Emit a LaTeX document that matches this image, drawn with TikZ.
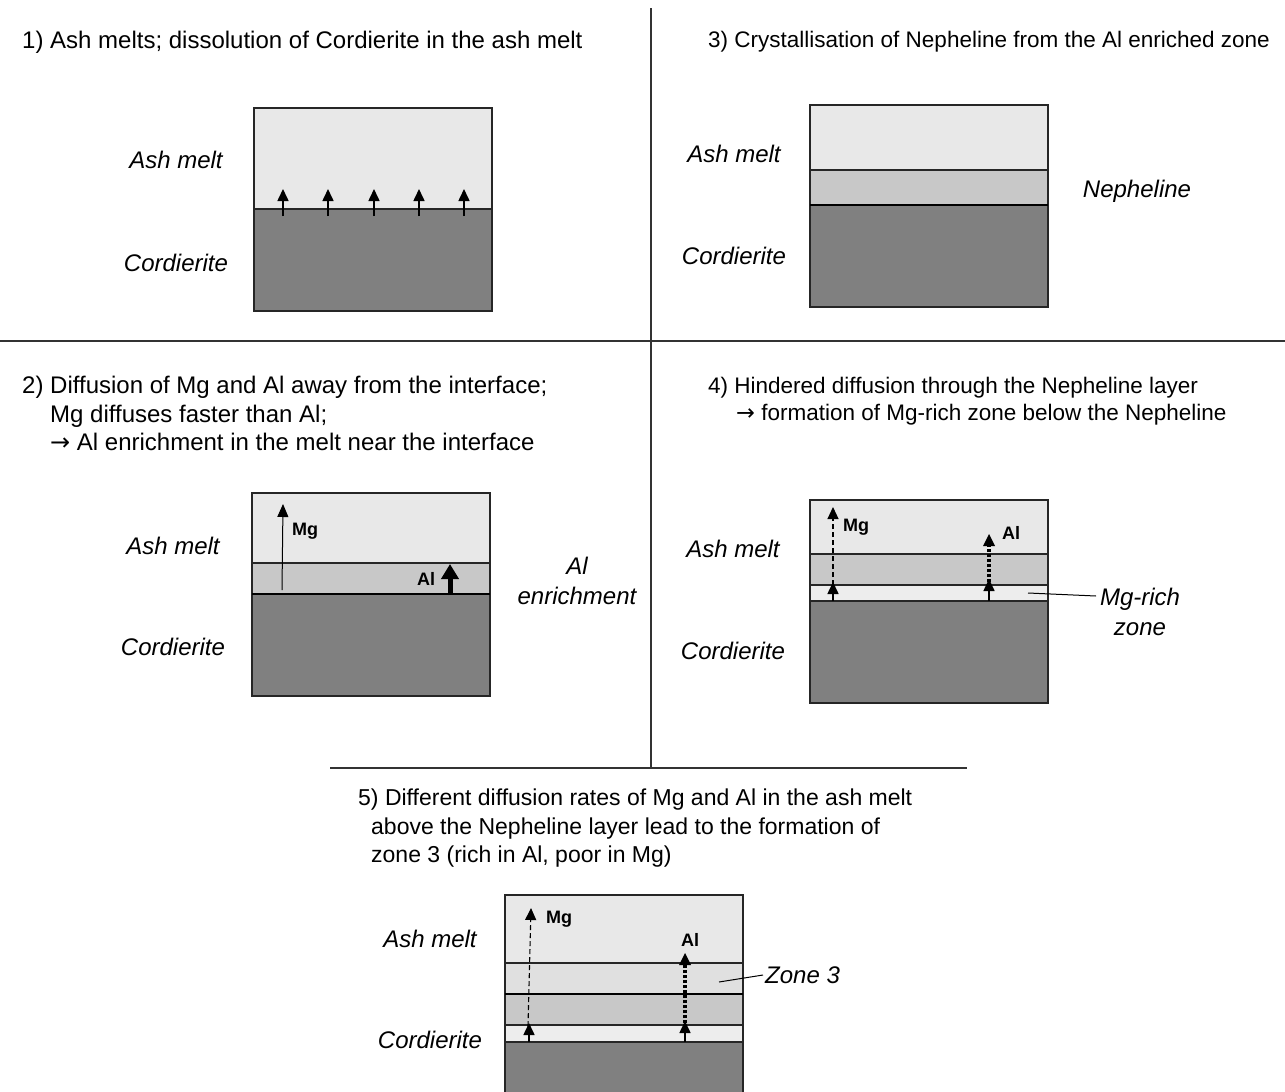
\documentclass[tikz,border=0pt]{standalone}
\usepackage{fontspec}
\setmainfont{Liberation Sans}
\newfontfamily\arrowfont{DejaVu Sans}
\usetikzlibrary{arrows.meta}
\definecolor{melt}{HTML}{E8E8E8}
\definecolor{neph}{HTML}{C8C8C8}
\definecolor{cord}{HTML}{808080}
\definecolor{mgz}{HTML}{EDEDED}
\definecolor{zthree}{HTML}{E0E0E0}
\newcommand{\rarr}{{\arrowfont →}}
\tikzset{
  layer/.style={draw=black!85, line width=1.3pt},
  thickline/.style={draw=black, line width=2.4pt},
  ttl/.style={anchor=west, align=left, inner sep=0pt, font=\fontsize{24}{28.5}\selectfont},
  ttlr/.style={ttl, font=\fontsize{22.5}{26.5}\selectfont},
  ttlc/.style={ttl, font=\fontsize{23}{28.5}\selectfont},
  lbl/.style={font=\fontsize{24}{29.5}\selectfont\itshape, align=center},
  el/.style={font=\fontsize{18}{20}\selectfont\bfseries},
  smallarr/.style={line width=1.6pt, -{Triangle[width=11pt,length=12pt]}},
  thinarr/.style={line width=1pt, -{Triangle[width=11pt,length=13pt]}},
  fatarr/.style={line width=5pt, -{Triangle[width=17pt,length=15pt]}},
  dasharr/.style={line width=1.1pt, dash pattern=on 5pt off 3pt, -{Triangle[width=11pt,length=12pt]}},
  dotarr/.style={line width=3.5pt, dash pattern=on 3pt off 2pt, -{Triangle[width=12pt,length=12pt,line width=0pt]}},
  divider/.style={line width=1.3pt, black!80},
  leader/.style={line width=1pt, black}
}
\begin{document}
\begin{tikzpicture}[x=1pt,y=-1pt]
\useasboundingbox (0,0) rectangle (1285,1092);
\fill[white] (0,0) rectangle (1285,1092);
% dividers
\coordinate (vt) at (651,8); \coordinate (vb) at (651,768);
\coordinate (hl) at (0,341); \coordinate (hr) at (1285,341);
\coordinate (ll) at (330,768); \coordinate (lr) at (967,768);
\draw[divider] (vt) -- (vb);
\draw[divider] (hl) -- (hr);
\draw[divider] (ll) -- (lr);

% ---------- Panel 1 ----------
\node[ttl] (t1) at (22,42) {1) Ash melts; dissolution of Cordierite in the ash melt};
\fill[melt] (254,108) rectangle (492,209);
\fill[cord] (254,209) rectangle (492,311);
\draw[layer] (254,108) rectangle (492,311);
\draw[layer] (254,209) -- (492,209);
\foreach \x/\n in {283/a,328/b,374/c,419/d,464/e}{
  \coordinate (p1\n s) at (\x,216); \coordinate (p1\n e) at (\x,189);
  \draw[smallarr] (p1\n s) -- (p1\n e);
}
\node[lbl] (am1) at (176,160) {Ash melt};
\node[lbl] (co1) at (176,263) {Cordierite};

% ---------- Panel 3 ----------
\node[ttlr] (t3) at (708,42) {3) Crystallisation of Nepheline from the Al enriched zone};
\fill[melt] (810,105) rectangle (1048,170);
\fill[neph] (810,170) rectangle (1048,205);
\fill[cord] (810,205) rectangle (1048,307);
\draw[layer] (810,105) rectangle (1048,307);
\draw[layer] (810,170) -- (1048,170);
\draw[thickline] (810,205) -- (1048,205);
\node[lbl] (am3) at (734,154) {Ash melt};
\node[lbl] (co3) at (734,256) {Cordierite};
\node[lbl] (ne3) at (1137,191) {Nepheline};

% ---------- Panel 2 ----------
\node[ttl, anchor=north west] (t2) at (22,376) {2) Diffusion of Mg and Al away from the interface;\\
\hspace*{28pt}Mg diffuses faster than Al;\\
\hspace*{28pt}\rarr{} Al enrichment in the melt near the interface};
\fill[melt] (252,493) rectangle (490,563);
\fill[neph] (252,563) rectangle (490,594);
\fill[cord] (252,594) rectangle (490,696);
\draw[layer] (252,493) rectangle (490,696);
\draw[layer] (252,563) -- (490,563);
\draw[thickline] (252,594) -- (490,594);
\coordinate (mg2s) at (282,590); \coordinate (mg2e) at (283,504);
\draw[thinarr] (mg2s) -- (mg2e);
\coordinate (al2s) at (450,595); \coordinate (al2e) at (450,564);
\draw[fatarr] (al2s) -- (al2e);
\node[el] (mgl2) at (305,531) {Mg};
\node[el] (all2) at (426,579) {Al};
\node[lbl] (am2) at (173,546) {Ash melt};
\node[lbl] (co2) at (173,647) {Cordierite};
\node[lbl] (ae2) at (577,581) {Al\\enrichment};

% ---------- Panel 4 ----------
\node[ttlr, anchor=north west] (t4) at (708,377) {4) Hindered diffusion through the Nepheline layer\\
\hspace*{28pt}\rarr{} formation of Mg-rich zone below the Nepheline};
\fill[melt] (810,500) rectangle (1048,554);
\fill[neph] (810,554) rectangle (1048,585);
\fill[mgz] (810,585) rectangle (1048,601);
\fill[cord] (810,601) rectangle (1048,703);
\draw[layer] (810,500) rectangle (1048,703);
\draw[layer] (810,554) -- (1048,554);
\draw[layer] (810,585) -- (1048,585);
\draw[layer] (810,601) -- (1048,601);
\coordinate (mg4s) at (833,585); \coordinate (mg4e) at (833,507);
\draw[dasharr] (mg4s) -- (mg4e);
\coordinate (mg4a) at (833,601); \coordinate (mg4b) at (833,582);
\draw[smallarr] (mg4a) -- (mg4b);
\coordinate (al4s) at (989,582); \coordinate (al4e) at (989,534);
\draw[dotarr] (al4s) -- (al4e);
\coordinate (al4a) at (989,601); \coordinate (al4b) at (989,579);
\draw[smallarr] (al4a) -- (al4b);
\node[el] (mgl4) at (856,527) {Mg};
\node[el] (all4) at (1011,533) {Al};
\node[lbl] (am4) at (733,549) {Ash melt};
\node[lbl] (co4) at (733,651) {Cordierite};
\node[lbl] (mr4) at (1140,612) {Mg-rich\\zone};
\coordinate (ld4) at (1028,593);
\draw[leader] (ld4) -- (1096,596);

% ---------- Panel 5 ----------
\node[ttlc, anchor=north west] (t5) at (358,789) {5) Different diffusion rates of Mg and Al in the ash melt\\
\hspace*{13pt}above the Nepheline layer lead to the formation of\\
\hspace*{13pt}zone 3 (rich in Al, poor in Mg)};
\fill[melt] (505,895) rectangle (743,963);
\fill[zthree] (505,963) rectangle (743,994);
\fill[neph] (505,994) rectangle (743,1025);
\fill[mgz] (505,1025) rectangle (743,1042);
\fill[cord] (505,1042) rectangle (743,1096);
\draw[layer] (505,1096) -- (505,895) -- (743,895) -- (743,1096);
\draw[layer] (505,963) -- (743,963);
\draw[thickline] (505,994) -- (743,994);
\draw[layer] (505,1025) -- (743,1025);
\draw[layer] (505,1042) -- (743,1042);
\coordinate (mg5s) at (528,1026); \coordinate (mg5e) at (531,908);
\draw[dasharr] (mg5s) -- (mg5e);
\coordinate (mg5a) at (529,1042); \coordinate (mg5b) at (529,1023);
\draw[smallarr] (mg5a) -- (mg5b);
\coordinate (al5s) at (685,1023); \coordinate (al5e) at (685,953);
\draw[dotarr] (al5s) -- (al5e);
\coordinate (al5a) at (685,1042); \coordinate (al5b) at (685,1021);
\draw[smallarr] (al5a) -- (al5b);
\node[el] (mgl5) at (559,919) {Mg};
\node[el] (all5) at (690,940) {Al};
\node[lbl] (am5) at (430,939) {Ash melt};
\node[lbl] (co5) at (430,1040) {Cordierite};
\node[lbl, anchor=west, inner sep=2pt] (z35) at (763,975) {Zone 3};
\coordinate (ld5) at (719,982);
\draw[leader] (ld5) -- (z35.west);
\end{tikzpicture}
\end{document}
